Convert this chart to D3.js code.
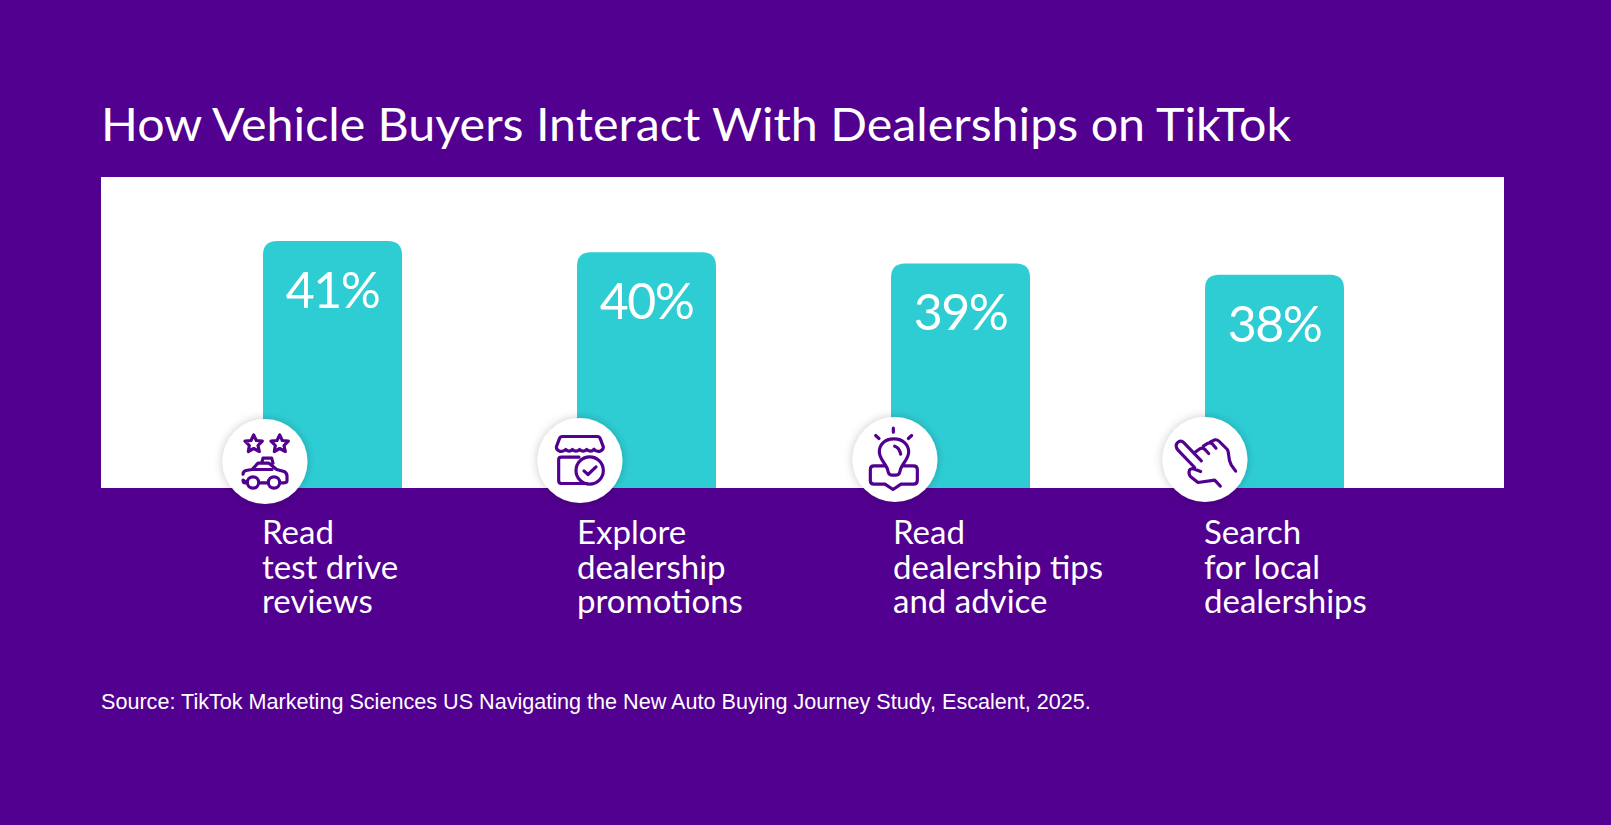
<!DOCTYPE html>
<html><head><meta charset="utf-8">
<script src="https://cdn.jsdelivr.net/npm/d3@7"></script>
<style>html,body{margin:0;padding:0;background:#52008f;overflow:hidden}svg{display:block}</style>
</head><body><svg id="c" width="1611" height="825"></svg>
<script>
const title = "How Vehicle Buyers Interact With Dealerships on TikTok";
const source = "Source: TikTok Marketing Sciences US Navigating the New Auto Buying Journey Study, Escalent, 2025.";
const categories = ["Read test drive reviews","Explore dealership promotions","Read dealership tips and advice","Search for local dealerships"];
const values = [41,40,39,38];
const labelLines = [["Read","test drive","reviews"],["Explore","dealership","promotions"],["Read","dealership tips","and advice"],["Search","for local","dealerships"]];
const labelShift = [-1,0,2,-1];
const iconOffsetX = [2,3,4,0], iconY=[461.5,460.5,459.5,459.5];

const icons = [
 {c:[193,184],d:"M159 104 L167 121 L185 123 L172 136 L176 154 L159 145 L143 154 L146 136 L133 123 L151 121 Z M237 104 L245 121 L263 123 L250 136 L254 154 L237 145 L221 154 L224 136 L211 123 L229 121 Z M127 222 Q127 214 136 211 L154 208 L172 189 L205 189 L228 208 L250 214 Q259 218 259 228 L259 242 Q259 248 250 248 L238 248 M202 248 L174 248 M139 248 L134 248 Q127 248 127 240 Z M183 189 L187 174 L213 174 L217 189 M156 208 L214 208 M174 247 A17 17 0 1 1 140 247 A17 17 0 1 1 174 247 Z M237 247 A17 17 0 1 1 203 247 A17 17 0 1 1 237 247 Z"},
 {c:[1138,181],d:"M1085 109 L1190 109 Q1196 109 1199 116 L1208 140 Q1208 150 1198 153 Q1187 156 1180 147 Q1171 158 1158 148 Q1147 158 1137 148 Q1126 158 1115 148 Q1106 158 1095 148 Q1087 156 1077 153 Q1067 150 1067 140 L1076 116 Q1079 109 1085 109 Z M1135 171 L1082 171 Q1074 171 1074 178 L1074 242 Q1074 250 1082 250 L1160 250 M1208 211 A41 41 0 1 1 1126 211 A41 41 0 1 1 1208 211 Z M1150 212 L1162 223 L1186 200"},
 {c:[193,178],d:"M188 84 L188 96 M135 106 L145 115 M243 106 L233 115 M190 116 C160 116 146 135 146 155 C146 180 168 190 172 213 Q174 225 186 225 L194 225 Q206 225 208 213 C212 190 234 180 234 155 C234 135 218 116 190 116 Z M192 138 Q206 142 210 162 M165 197 L130 197 Q119 197 119 208 L119 240 Q119 252 130 252 L163 252 L187 268 L211 252 L248 252 Q260 252 260 240 L260 208 Q260 197 248 197 L214 197"},
 {c:[1123,178],d:"M1112 182 L1060 128 Q1050 118 1040 128 Q1032 138 1042 150 L1092 202 M1095 155 L1109 145 Q1116 142 1122 147 L1134 160 M1118 138 L1132 129 Q1140 126 1146 132 L1156 144 M1138 126 L1152 119 Q1160 118 1166 124 L1190 148 Q1193 152 1194 165 Q1195 183 1202 195 L1215 213 M1110 214 L1088 206 Q1076 204 1075 216 Q1075 226 1083 232 L1102 247 L1152 240 L1169 258"}
];

const svg = d3.select("#c");
const bg="#52008f", teal="#2ecdd4";
const font="'Lato','Open Sans',sans-serif";
const x = d3.scaleBand().domain(categories).range([263,1344+0]).paddingInner(175/314).paddingOuter(0);
const y = d3.scaleLinear().domain([19,41]).range([488,241]);

const defs=svg.append("defs");
const f=defs.append("filter").attr("id","sh").attr("x","-30%").attr("y","-30%").attr("width","160%").attr("height","160%");
f.append("feDropShadow").attr("dx",0).attr("dy",0).attr("stdDeviation",5).attr("flood-color","#000").attr("flood-opacity",0.22);

svg.append("rect").attr("width",1611).attr("height",825).attr("fill",bg);
svg.append("text").text(title).attr("x",101).attr("y",141).attr("fill","#fff").attr("font-family",font).attr("font-size",47).attr("font-weight",400).attr("textLength",1190).attr("lengthAdjust","spacingAndGlyphs");
svg.append("rect").attr("x",101).attr("y",177).attr("width",1403).attr("height",311).attr("fill","#fff");

const g=svg.selectAll("g.bar").data(categories.map((c,i)=>({c,v:values[i],i}))).join("g").attr("class","bar");
const r=14;
g.append("path").attr("fill",teal).attr("d",d=>{const a=x(d.c),b=a+x.bandwidth(),t=y(d.v),B=y.range()[0];return `M${a} ${B}V${t+r}Q${a} ${t} ${a+r} ${t}H${b-r}Q${b} ${t} ${b} ${t+r}V${B}Z`;});
g.append("text").text(d=>d.v+"%").attr("x",d=>x(d.c)+x.bandwidth()/2).attr("y",d=>y(d.v)+67).attr("text-anchor","middle").attr("fill","#fff").attr("font-family",font).attr("font-size",50).attr("letter-spacing",-1.5);
g.append("circle").attr("cx",d=>x(d.c)+iconOffsetX[d.i]).attr("cy",d=>iconY[d.i]).attr("r",42.5).attr("fill","#fff").attr("filter","url(#sh)");
g.append("path").attr("d",d=>icons[d.i].d).attr("fill","none").attr("stroke",bg).attr("stroke-width",9.5).attr("stroke-linecap","round").attr("stroke-linejoin","round")
 .attr("transform",d=>`translate(${x(d.c)+iconOffsetX[d.i]},${iconY[d.i]}) scale(${1/3}) translate(${-icons[d.i].c[0]},${-icons[d.i].c[1]})`);
g.each(function(d){d3.select(this).selectAll("text.l").data(labelLines[d.i]).join("text").attr("class","l").text(t=>t)
 .attr("x",x(d.c)+labelShift[d.i]).attr("y",(t,j)=>544+j*34.5).attr("fill","#fff").attr("font-family",font).attr("font-size",33);});
svg.append("text").text(source).attr("x",101).attr("y",709).attr("fill","#fff").attr("font-family","'Liberation Sans',Arial,sans-serif").attr("font-size",21.6);
</script></body></html>
